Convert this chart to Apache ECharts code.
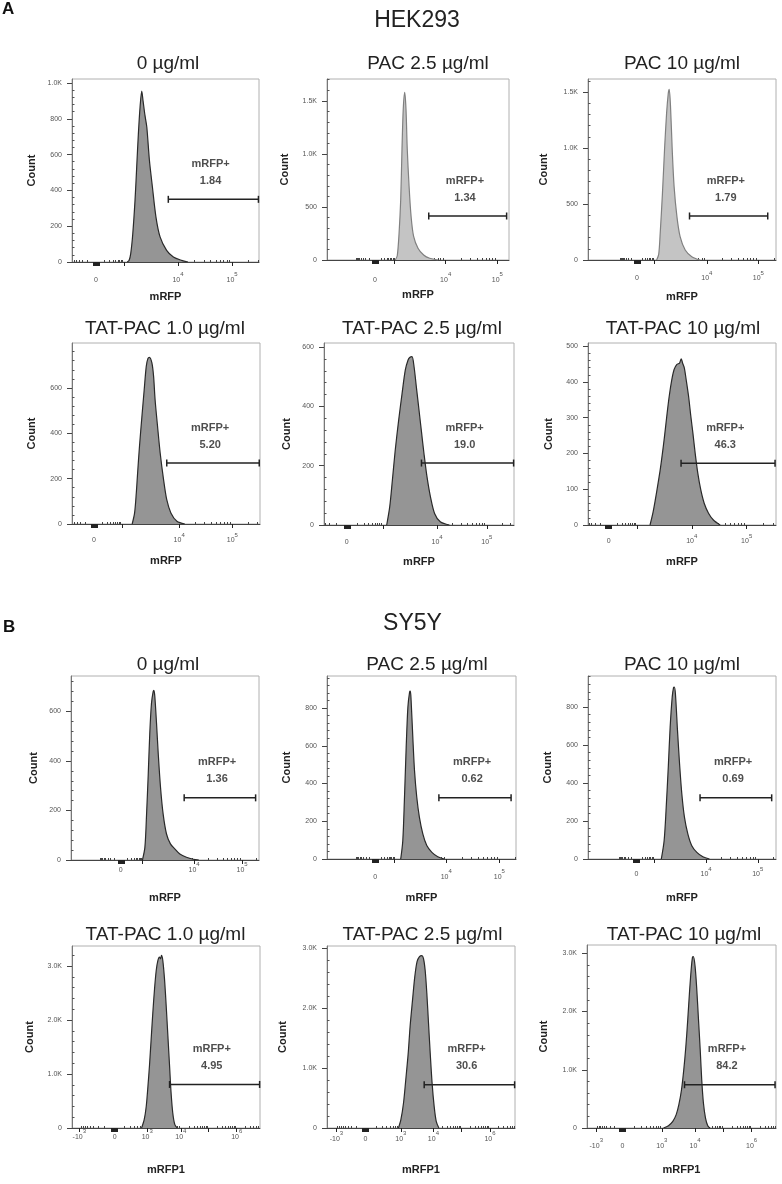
<!DOCTYPE html>
<html>
<head>
<meta charset="utf-8">
<script src="https://cdn.jsdelivr.net/npm/echarts@6/dist/echarts.min.js"></script>
<style>body{margin:0;background:#fff;}</style>
</head>
<body>
<div id="main" style="width:782px;height:1184px;"></div>
<script>
// ---- data ----
var titles = ['0 µg/ml', 'PAC 2.5 µg/ml', 'PAC 10 µg/ml',
  'TAT-PAC 1.0 µg/ml', 'TAT-PAC 2.5 µg/ml', 'TAT-PAC 10 µg/ml',
  '0 µg/ml', 'PAC 2.5 µg/ml', 'PAC 10 µg/ml',
  'TAT-PAC 1.0 µg/ml', 'TAT-PAC 2.5 µg/ml', 'TAT-PAC 10 µg/ml'];
var xNames = ['mRFP', 'mRFP', 'mRFP', 'mRFP', 'mRFP', 'mRFP',
  'mRFP', 'mRFP', 'mRFP', 'mRFP1', 'mRFP1', 'mRFP1'];
var gatePct = ['1.84', '1.34', '1.79', '5.20', '19.0', '46.3', '1.36', '0.62', '0.69', '4.95', '30.6', '84.2'];
var gateLo = [51.5, 55.9, 54, 50.4, 51.3, 49.5, 60.2, 59.2, 59.6, 51.9, 51.7, 51.6];
var gateHi = [99.7, 98.7, 95.6, 99.6, 99.8, 99.5, 98.2, 97.4, 97.7, 99.8, 99.8, 99.5];
var gateY = [350, 415, 393, 269, 209, 173, 251, 324, 322, 807, 722, 743];
var yMax = [1022, 1707, 1616, 798, 614, 509, 743, 970, 963, 3373, 3039, 3143];
var yStep = [200, 500, 500, 200, 200, 100, 200, 200, 200, 1000, 1000, 1000];

// x positions are display channels (0-100 across the plot)
var xTicks = [
  [[12.8, '0'], [27.8, ''], [56.7, '10^4'], [85.6, '10^5']],
  [[26.3, '0'], [37.2, ''], [65.2, '10^4'], [93.6, '10^5']],
  [[26.0, '0'], [35.4, ''], [63.2, '10^4'], [90.6, '10^5']],
  [[11.7, '0'], [26.5, ''], [57.0, '10^4'], [85.3, '10^5']],
  [[12.0, '0'], [31.0, ''], [59.5, '10^4'], [85.7, '10^5']],
  [[11.0, '0'], [26.0, ''], [55.2, '10^4'], [84.4, '10^5']],
  [[26.5, '0'], [38.0, ''], [65.5, '10^4'], [91.0, '10^5']],
  [[25.5, '0'], [35.8, ''], [63.1, '10^4'], [91.2, '10^5']],
  [[25.8, '0'], [35.4, ''], [62.8, '10^4'], [90.3, '10^5']],
  [[3.9, '-10^3'], [22.7, '0'], [40.0, '10^3'], [57.9, '10^4'], [72.7, ''], [87.6, '10^6']],
  [[5.0, '-10^3'], [20.4, '0'], [39.3, '10^3'], [56.6, '10^4'], [71.6, ''], [86.7, '10^6']],
  [[4.9, '-10^3'], [18.8, '0'], [39.6, '10^3'], [57.2, '10^4'], [72.1, ''], [87.1, '10^6']]
];

// histograms: channel / count
var chA1 = [29.5, 30.5, 31.4, 32.5, 33.7, 34.6, 35.5, 36.4, 37.3, 38.0, 39.0, 40.0, 41.4, 43.0, 44.9, 47.1, 50.6, 54.2, 58.6, 62];
var ctA1 = [0, 8, 47, 158, 344, 531, 717, 866, 955, 900, 820, 754, 568, 419, 251, 140, 65, 28, 9, 0];
var chA2 = [37.5, 38.6, 39.6, 40.5, 41.2, 41.9, 42.7, 43.4, 44.1, 45.1, 46.2, 47.6, 50, 53.1, 56.4, 61];
var ctA2 = [0, 40, 253, 570, 1044, 1424, 1580, 1424, 1044, 696, 411, 222, 111, 47, 16, 0];
var chA3 = [36.5, 37.6, 38.4, 39.6, 40.7, 41.8, 42.7, 43.2, 43.9, 44.8, 45.8, 47.3, 49, 51.7, 55.2, 59.6];
var ctA3 = [0, 50, 238, 595, 982, 1309, 1488, 1524, 1369, 982, 655, 387, 208, 89, 30, 0];
var chA4 = [32, 33.3, 34.2, 34.9, 35.9, 37.2, 38.4, 39.5, 40.4, 41.2, 42.5, 43.4, 44.2, 45.5, 46.9, 48.7, 50.4, 52.6, 55.8, 60];
var ctA4 = [0, 49, 137, 225, 343, 475, 592, 695, 730, 735, 710, 651, 548, 431, 313, 196, 107, 49, 12, 0];
var chA5 = [33, 34.6, 36, 37.5, 39.3, 41.1, 42.8, 44.2, 45.1, 46.3, 47.4, 48.6, 50, 51.4, 52.6, 54.2, 56, 58.2, 61.2, 66];
var ctA5 = [0, 62, 152, 253, 354, 444, 523, 556, 565, 568, 534, 466, 388, 309, 242, 163, 96, 39, 11, 0];
var chA6 = [33, 34.5, 35.8, 37, 38.4, 39.6, 40.7, 41.9, 43.2, 44.6, 45.8, 47.3, 48.7, 49.6, 50.3, 51.2, 52.2, 53.5, 54.7, 55.8, 57, 58.4, 60, 61.8, 64.1, 66.7, 70.3];
var ctA6 = [0, 33, 70, 108, 154, 201, 248, 304, 360, 407, 435, 449, 453, 465, 453, 440, 407, 360, 304, 257, 201, 145, 98, 61, 33, 14, 0];
var chB1 = [38, 39.3, 40.2, 41.1, 41.9, 42.8, 43.7, 44.1, 44.6, 45.5, 46.4, 47.6, 49, 50.8, 52.9, 55.2, 57.9, 61.4, 65, 68];
var ctB1 = [0, 51, 186, 349, 511, 632, 680, 685, 659, 551, 430, 295, 186, 105, 65, 45, 24, 11, 3, 0];
var chB2 = [39, 40.1, 41, 41.9, 42.8, 43.7, 44.1, 44.5, 45.4, 46.3, 47.5, 48.9, 50.7, 52.8, 55.5, 58.6, 62];
var ctB2 = [0, 97, 327, 593, 805, 885, 890, 841, 646, 469, 327, 221, 133, 71, 35, 12, 0];
var chB3 = [39, 40.5, 41.6, 42.7, 43.7, 44.8, 45.5, 45.9, 46.5, 47.6, 48.7, 49.9, 51.3, 53.1, 55.2, 57.9, 61.1, 64.6];
var ctB3 = [0, 97, 272, 483, 694, 853, 902, 905, 870, 677, 501, 343, 220, 132, 70, 35, 12, 0];
var chB4 = [37, 38.4, 39.5, 40.4, 41.2, 42.1, 43, 43.9, 44.8, 45.7, 46.5, 47.1, 47.6, 48.3, 49.2, 50.1, 51, 51.9, 52.7, 53.6, 54.7, 56];
var ctB4 = [0, 155, 404, 776, 1149, 1646, 2142, 2577, 2919, 3105, 3167, 3136, 3198, 3105, 2763, 2267, 1708, 1149, 652, 279, 62, 0];
var chB5 = [38, 39.3, 40.7, 41.9, 43.2, 44.2, 45.5, 46.7, 47.9, 49.2, 50.4, 51.3, 52.2, 53.1, 54, 54.9, 55.9, 57, 58.1, 59.5];
var ctB5 = [0, 139, 417, 806, 1250, 1695, 2139, 2528, 2778, 2861, 2878, 2834, 2639, 2250, 1750, 1250, 750, 361, 111, 0];
var chB6 = [40.5, 43.1, 45.4, 47.2, 48.6, 50, 51.2, 52.3, 53.3, 54.2, 55.1, 55.8, 56.3, 57.2, 58.1, 59, 59.9, 60.7, 61.6, 62.7, 63.9, 65.1];
var ctB6 = [0, 40, 114, 229, 400, 657, 1000, 1400, 1857, 2314, 2714, 2931, 2943, 2771, 2371, 1857, 1343, 829, 429, 171, 40, 0];

var channels = [chA1, chA2, chA3, chA4, chA5, chA6, chB1, chB2, chB3, chB4, chB5, chB6];
var counts = [ctA1, ctA2, ctA3, ctA4, ctA5, ctA6, ctB1, ctB2, ctB3, ctB4, ctB5, ctB6];

// ---- layout ----
var boxes = [
  [72, 79, 187, 183], [327, 79, 182, 181], [588, 79, 188, 181],
  [72, 343, 188, 181], [324, 343, 190, 182], [588, 343, 188, 182],
  [71, 676, 188, 184], [327, 676, 189, 183], [588, 676, 188, 183],
  [72, 946, 188, 182], [327, 946, 188, 182], [587, 945, 189, 183]
];
var titlePos = [[168, 64], [428, 64], [682, 64], [165, 329], [422, 329], [683, 329],
  [168, 665], [427, 665], [682, 665], [165.5, 935], [422.5, 935], [684, 935]];
var xLabelMargin = [9.5, 11.5, 10, 8, 9, 8, 1.5, 9.5, 7, 0.5, 2.5, 9.5];
var xNameGap = [29, 29, 31, 31, 31, 31, 32, 33, 33, 36, 36, 36];
var yNameGap = [35, 37, 39, 35, 32, 34, 32, 35, 35, 37, 39, 38];
var lightPanels = [1, 2];

var fam = "'Liberation Sans', Arial, Helvetica, sans-serif";
var K = [2, 3, 4, 5, 6, 7, 8, 9].map(function (k) { return Math.log10(k); });

function xMinor(ticks) {
  var out = [];
  var zero = ticks.filter(function (t) { return t[1] === '0'; })[0][0];
  var neg = ticks.filter(function (t) { return t[1].charAt(0) === '-'; })[0];
  var decs = ticks.filter(function (t) { return t[1] !== '0' && t[1].charAt(0) !== '-'; })
    .map(function (t) { return t[0]; });
  K.forEach(function (f) { out.push(zero + (decs[0] - zero) * f); });
  for (var j = 0; j < decs.length; j++) {
    var a = decs[j];
    var b = j + 1 < decs.length ? decs[j + 1] : a + (a - decs[j - 1]);
    K.forEach(function (f) { var v = a + (b - a) * f; if (v < 100) out.push(v); });
  }
  var nEnd = neg ? neg[0] : zero - (decs[0] - zero);
  K.forEach(function (f) { var v = zero - (zero - nEnd) * f; if (v > 0.5) out.push(v); });
  return out;
}

function fmtX(lbl) {
  if (lbl.indexOf('^') < 0) return '{b|' + lbl + '}';
  var m = lbl.split('^');
  return '{b|' + m[0] + '}{s|' + m[1] + '}';
}

var option = {
  animation: false,
  backgroundColor: '#fff',
  textStyle: { fontFamily: fam },
  grid: [], xAxis: [], yAxis: [], series: [],
  graphic: [
    { type: 'text', x: 2, y: 9, style: { text: 'A', font: 'bold 17px ' + fam, fill: '#111', verticalAlign: 'middle' } },
    { type: 'text', x: 3, y: 627, style: { text: 'B', font: 'bold 17px ' + fam, fill: '#111', verticalAlign: 'middle' } },
    { type: 'text', x: 417, y: 21, style: { text: 'HEK293', font: '23px ' + fam, fill: '#222', align: 'center', verticalAlign: 'middle' } },
    { type: 'text', x: 412.5, y: 624, style: { text: 'SY5Y', font: '23px ' + fam, fill: '#222', align: 'center', verticalAlign: 'middle' } }
  ]
};

titles.forEach(function (t, i) {
  option.graphic.push({ type: 'text', x: titlePos[i][0], y: titlePos[i][1],
    style: { text: t, font: '19px ' + fam, fill: '#222', align: 'center', verticalAlign: 'middle' } });
});

for (var i = 0; i < 12; i++) {
  var bx = boxes[i];
  option.grid.push({ left: bx[0], top: bx[1], width: bx[2], height: bx[3],
    show: true, borderColor: '#b0b0b0', borderWidth: 1, outerBoundsMode: 'none' });

  var ticks = xTicks[i];
  var zero = ticks.filter(function (t) { return t[1] === '0'; })[0][0];
  var majors = ticks.map(function (t) { return t[0]; });
  for (var d = -1.6; d <= 1.61; d += 0.4) majors.push(zero + d);
  var labeled = ticks.filter(function (t) { return t[1] !== ''; }).map(function (t) { return t[0]; });

  option.xAxis.push({
    type: 'value', gridIndex: i, min: 0, max: 100,
    axisLine: { show: true, onZero: false, lineStyle: { color: '#444', width: 1 } },
    axisTick: { show: true, customValues: majors, length: 4, lineStyle: { color: '#222', width: 1 } },
    axisLabel: {
      show: true, customValues: labeled, margin: xLabelMargin[i],
      formatter: (function (tk) {
        return function (v) {
          for (var k = 0; k < tk.length; k++) if (Math.abs(tk[k][0] - v) < 1e-6) return fmtX(tk[k][1]);
          return '';
        };
      })(ticks),
      rich: {
        b: { fontSize: 7, lineHeight: 12, verticalAlign: 'bottom', color: '#555', fontFamily: fam },
        s: { fontSize: 6, lineHeight: 12, verticalAlign: 'top', color: '#555', fontFamily: fam }
      }
    },
    splitLine: { show: false },
    name: xNames[i], nameLocation: 'middle', nameGap: xNameGap[i],
    nameTextStyle: { fontWeight: 'bold', fontSize: 11, color: '#222', fontFamily: fam }
  });
  option.xAxis.push({
    type: 'value', gridIndex: i, min: 0, max: 100,
    axisLine: { show: false },
    axisTick: { show: true, customValues: xMinor(ticks), length: 2, lineStyle: { color: '#444', width: 1 } },
    axisLabel: { show: false }, splitLine: { show: false }
  });

  var yMaj = [], yMin = [];
  for (var v = 0; v <= yMax[i]; v += yStep[i]) yMaj.push(v);
  for (var w = yStep[i] / 5; w <= yMax[i]; w += yStep[i] / 5) {
    if (Math.abs(w / yStep[i] - Math.round(w / yStep[i])) > 1e-6) yMin.push(w);
  }
  option.yAxis.push({
    type: 'value', gridIndex: i, min: 0, max: yMax[i],
    axisLine: { show: true, lineStyle: { color: '#777', width: 1 } },
    axisTick: { show: true, customValues: yMaj, length: 5, lineStyle: { color: '#444', width: 1 } },
    axisLabel: {
      show: true, customValues: yMaj, margin: 10, fontSize: 7, color: '#555',
      formatter: function (v) { return v >= 1000 ? (v / 1000).toFixed(1) + 'K' : String(v); }
    },
    splitLine: { show: false },
    name: 'Count', nameLocation: 'middle', nameRotate: 90, nameGap: yNameGap[i],
    nameTextStyle: { fontWeight: 'bold', fontSize: 11, color: '#222', fontFamily: fam }
  });
  option.yAxis.push({
    type: 'value', gridIndex: i, min: 0, max: yMax[i],
    axisLine: { show: false },
    axisTick: { show: true, customValues: yMin, length: 2.5, lineStyle: { color: '#555', width: 1 } },
    axisLabel: { show: false }, splitLine: { show: false }
  });

  var light = lightPanels.indexOf(i) >= 0;
  option.series.push({
    type: 'line', xAxisIndex: 2 * i, yAxisIndex: 2 * i, silent: true,
    data: channels[i].map(function (c, k) { return [c, counts[i][k]]; }),
    smooth: 0.3, symbol: 'none',
    lineStyle: { color: light ? '#808080' : '#2a2a2a', width: 1.2 },
    areaStyle: { color: light ? '#c4c4c4' : '#959595', opacity: 1 },
    z: 2
  });
  option.series.push({
    type: 'line', xAxisIndex: 2 * i, yAxisIndex: 2 * i, silent: true,
    data: [[gateLo[i], gateY[i]], [gateHi[i], gateY[i]]],
    symbol: 'rect', symbolSize: [1.5, 7], showSymbol: true,
    itemStyle: { color: '#222' }, lineStyle: { color: '#222', width: 1.5 }, z: 3
  });
  option.series.push({
    type: 'scatter', xAxisIndex: 2 * i, yAxisIndex: 2 * i, silent: true,
    data: [[(gateLo[i] + gateHi[i]) / 2 - 1.5, gateY[i]]], symbolSize: 0,
    label: {
      show: true, position: 'top', distance: 10,
      formatter: 'mRFP+\n' + gatePct[i],
      fontWeight: 'bold', fontSize: 11, lineHeight: 17, color: '#222', fontFamily: fam
    },
    z: 4
  });
}

var myChart = echarts.init(document.getElementById('main'));
myChart.setOption(option);
</script>
</body>
</html>
